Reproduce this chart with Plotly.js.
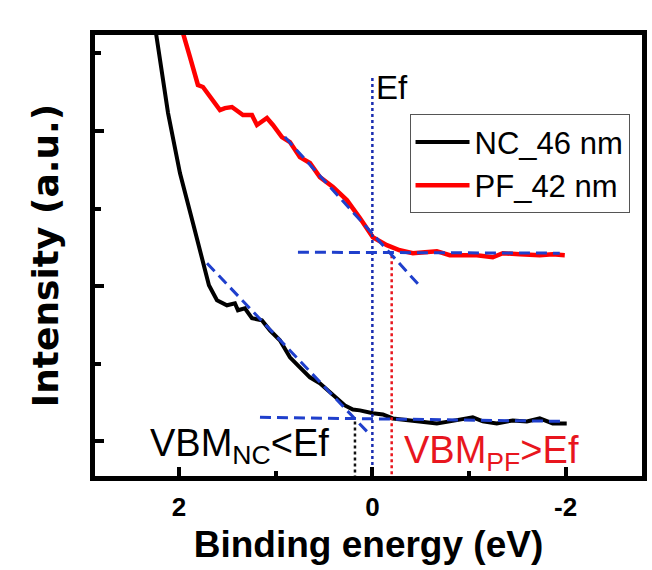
<!DOCTYPE html>
<html>
<head>
<meta charset="utf-8">
<script src="https://cdn.plot.ly/plotly-3.0.1.min.js"></script>
<style>html,body{margin:0;padding:0;background:#fff;}#chart{width:652px;height:570px;}</style>
</head>
<body>
<div id="chart"></div>
<script>
// ---- data (binding energy in eV, intensity in arbitrary units) ----
var ncEnergy = [2.28, 2.239, 2.114, 1.991, 1.856, 1.743, 1.691, 1.608, 1.505, 1.422, 1.391, 1.319, 1.246, 1.143, 1.060, 0.957, 0.853, 0.750, 0.646, 0.543, 0.460, 0.367, 0.284, 0.202, 0.129, -0.005, -0.109, -0.212, -0.419, -0.667, -0.801, -1.039, -1.143, -1.287, -1.453, -1.598, -1.732, -1.866, -2.011];
var ncIntensity = [2.78, 2.632, 2.116, 1.729, 1.406, 1.148, 1.006, 0.910, 0.877, 0.890, 0.845, 0.858, 0.794, 0.781, 0.716, 0.652, 0.542, 0.477, 0.413, 0.374, 0.329, 0.284, 0.232, 0.205, 0.200, 0.181, 0.174, 0.148, 0.135, 0.116, 0.129, 0.155, 0.129, 0.116, 0.135, 0.129, 0.148, 0.116, 0.116];

var pfEnergy = [1.99, 1.960, 1.887, 1.805, 1.753, 1.660, 1.577, 1.525, 1.453, 1.339, 1.246, 1.194, 1.091, 1.029, 0.936, 0.853, 0.750, 0.646, 0.543, 0.408, 0.264, 0.129, -0.005, -0.150, -0.284, -0.419, -0.667, -0.801, -1.081, -1.246, -1.349, -1.525, -1.732, -1.866, -1.991];
var pfIntensity = [2.78, 2.632, 2.477, 2.297, 2.284, 2.200, 2.135, 2.148, 2.155, 2.103, 2.103, 2.039, 2.084, 2.039, 1.961, 1.929, 1.832, 1.794, 1.703, 1.639, 1.555, 1.439, 1.316, 1.265, 1.232, 1.213, 1.226, 1.200, 1.200, 1.187, 1.213, 1.206, 1.200, 1.206, 1.200];

// linear fits (end points)
var ncSlopeE = [1.711, 0.047],  ncSlopeI = [1.148, 0.058];
var ncBaseE  = [1.163, -1.991], ncBaseI  = [0.155, 0.129];
var pfSlopeE = [0.905, -0.512], pfSlopeI = [1.961, 0.987];
var pfBaseE  = [0.770, -1.939], pfBaseI  = [1.219, 1.213];

// marker energies
var fermiE = 0, fermiTop = 2.342;
var vbmNC = 0.18, vbmNCTop = 0.129;
var vbmPF = -0.20, vbmPFTop = 1.20;
var axisBottom = -0.223;

var seriesNames = ['NC_46 nm', 'PF_42 nm'];
var xTickVals = [2, 0, -2];
var xTickText = ['2', '0', '-2'];

var SANS = 'Liberation Sans, Arial, sans-serif';
var dashBlue = '#1f3fcc';

var traces = [
  {x: ncEnergy, y: ncIntensity, name: seriesNames[0], mode: 'lines', line: {color: '#000', width: 4}},
  {x: pfEnergy, y: pfIntensity, name: seriesNames[1], mode: 'lines', line: {color: '#ff0000', width: 4.5}},
  {x: [fermiE, fermiE], y: [fermiTop, axisBottom], mode: 'lines', showlegend: false, line: {color: '#1a2db0', width: 2.5, dash: 'dot'}},
  {x: [vbmNC, vbmNC], y: [vbmNCTop, axisBottom], mode: 'lines', showlegend: false, line: {color: '#111', width: 2.5, dash: 'dot'}},
  {x: [vbmPF, vbmPF], y: [vbmPFTop, axisBottom], mode: 'lines', showlegend: false, line: {color: '#e8161e', width: 2.5, dash: 'dot'}},
  {x: ncSlopeE, y: ncSlopeI, mode: 'lines', showlegend: false, line: {color: dashBlue, width: 3, dash: '11px,6px'}},
  {x: ncBaseE, y: ncBaseI, mode: 'lines', showlegend: false, line: {color: dashBlue, width: 3, dash: '11px,6px'}},
  {x: pfSlopeE, y: pfSlopeI, mode: 'lines', showlegend: false, line: {color: dashBlue, width: 3, dash: '11px,6px'}},
  {x: pfBaseE, y: pfBaseI, mode: 'lines', showlegend: false, line: {color: dashBlue, width: 3, dash: '11px,6px'}}
];

var layout = {
  width: 652, height: 570,
  margin: {l: 95, r: 10, t: 35, b: 94, pad: 0},
  paper_bgcolor: '#fff', plot_bgcolor: '#fff',
  showlegend: true,
  hovermode: false,
  xaxis: {
    range: [2.87, -2.79],
    showgrid: false, zeroline: false,
    showline: true, linewidth: 5, linecolor: '#000', mirror: true,
    tickmode: 'array', tickvals: xTickVals, ticktext: xTickText,
    ticks: 'inside', ticklen: 9, tickwidth: 4, tickcolor: '#000',
    minor: {ticks: 'inside', dtick: 1, tick0: 0, ticklen: 5, tickwidth: 4, tickcolor: '#000', showgrid: false},
    tickfont: {family: SANS, size: 26, weight: 'bold', color: '#000'},
    ticklabelstandoff: 4,
    title: {text: 'Binding energy (eV)', font: {family: SANS, size: 37, weight: 'bold', color: '#000'}, standoff: 11}
  },
  yaxis: {
    range: [-0.223, 2.619],
    showgrid: false, zeroline: false,
    showline: true, linewidth: 5, linecolor: '#000', mirror: true,
    tickmode: 'linear', tick0: 0, dtick: 1,
    ticks: 'inside', ticklen: 9, tickwidth: 4, tickcolor: '#000',
    minor: {ticks: 'inside', dtick: 0.5, tick0: 0, ticklen: 6, tickwidth: 4, tickcolor: '#000', showgrid: false},
    showticklabels: false,
    title: {text: 'Intensity (a.u.)', font: {family: 'DejaVu Sans, sans-serif', size: 36, weight: 'bold', color: '#000'}, standoff: 22}
  },
  legend: {
    x: 0.575, y: 0.82, xanchor: 'left', yanchor: 'top',
    bgcolor: '#fff', bordercolor: '#555', borderwidth: 1,
    font: {family: SANS, size: 31, color: '#000'},
    itemwidth: 54, tracegroupgap: 0
  },
  annotations: [
    {x: fermiE, y: 2.28, xref: 'x', yref: 'y', text: 'Ef', showarrow: false, xanchor: 'left', yanchor: 'middle', xshift: 2,
     font: {family: SANS, size: 33, color: '#000'}},
    {x: 2.322, y: -0.03, xref: 'x', yref: 'y', text: 'VBM<sub>NC</sub>&lt;Ef', showarrow: false, xanchor: 'left', yanchor: 'middle',
     font: {family: SANS, size: 38, color: '#000'}},
    {x: -0.305, y: -0.075, xref: 'x', yref: 'y', text: 'VBM<sub>PF</sub>&gt;Ef', showarrow: false, xanchor: 'left', yanchor: 'middle',
     font: {family: SANS, size: 38, color: '#e8161e'}}
  ]
};

Plotly.newPlot('chart', traces, layout, {displayModeBar: false, staticPlot: true});
</script>
</body>
</html>
